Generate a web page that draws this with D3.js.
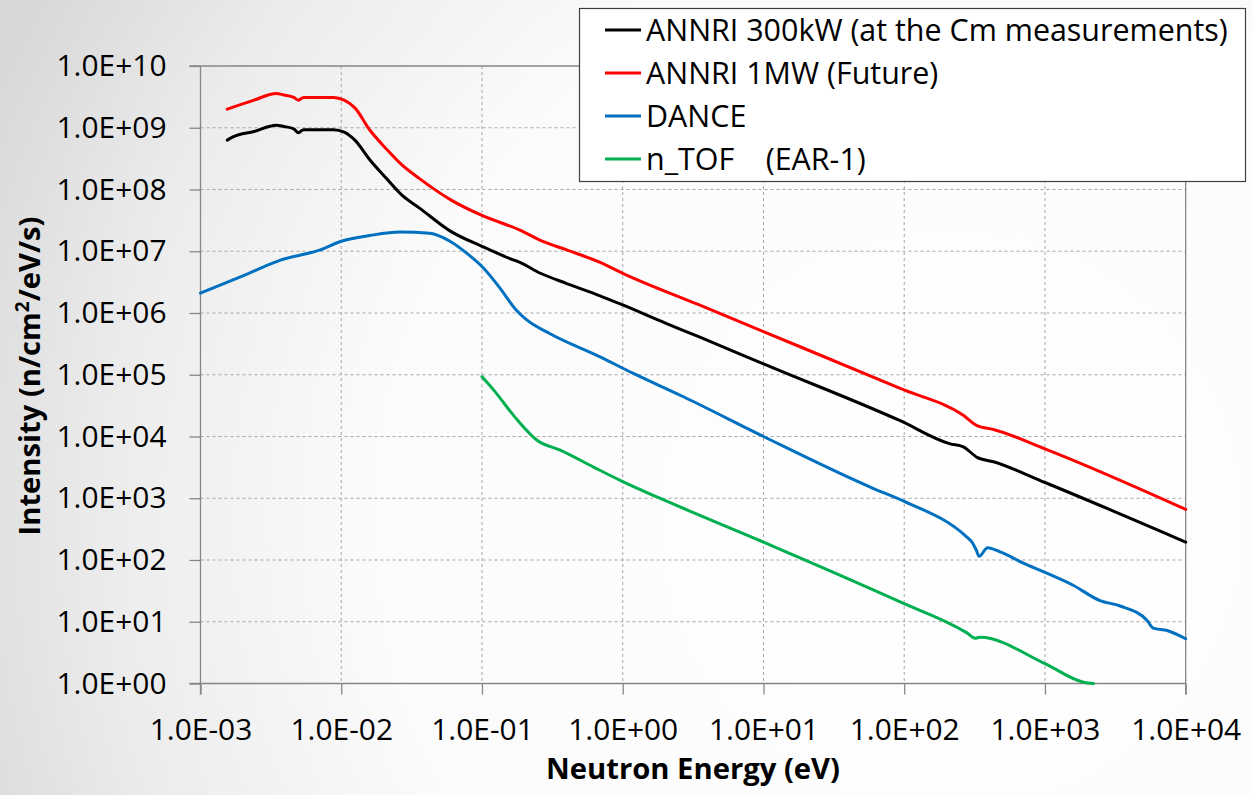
<!DOCTYPE html>
<html>
<head>
<meta charset="utf-8">
<script src="https://cdn.jsdelivr.net/npm/d3@7"></script>
<style>
  html, body { margin: 0; padding: 0; background: #fff; }
  svg { display: block; }
  text { font-family: "Open Sans", "Noto Sans", sans-serif; fill: #000; }
</style>
</head>
<body>
<svg id="chart" width="1252" height="795"></svg>
<script>
// Neutron flux spectra: energy (eV) vs intensity (n/cm^2/eV/s)
const annri300kW = [
  [1.55e-3, 6.3e8], [1.7e-3, 7.1e8], [2.4e-3, 8.7e8], [3.45e-3, 1.10e9], [3.9e-3, 1.05e9],
  [4.6e-3, 9.6e8], [4.96e-3, 8.3e8], [5.4e-3, 9.3e8], [7.1e-3, 9.3e8], [8.8e-3, 9.3e8],
  [1.05e-2, 8.5e8], [1.25e-2, 6.3e8], [1.6e-2, 3.0e8], [2.1e-2, 1.5e8],
  [2.7e-2, 8.1e7], [3.6e-2, 5.0e7], [6.0e-2, 2.1e7], [0.1, 1.2e7], [0.158, 7.6e6],
  [0.186, 6.6e6], [0.26, 4.4e6], [0.4, 3.0e6], [0.69, 1.9e6], [1, 1.35e6], [2.03, 6.8e5],
  [3.5, 4.1e5], [10, 1.5e5], [93.6, 1.8e4], [212, 7.6e3], [263, 6.8e3], [329, 4.6e3],
  [431, 3.9e3], [1000, 1.8e3], [10000, 195]
];
const annri1MW = [
  [1.55e-3, 2.0e9], [2.4e-3, 2.8e9], [3.45e-3, 3.6e9], [3.9e-3, 3.4e9], [4.6e-3, 3.1e9],
  [4.96e-3, 2.8e9], [5.4e-3, 3.1e9], [8.8e-3, 3.1e9], [1.05e-2, 2.8e9], [1.25e-2, 2.1e9],
  [1.6e-2, 9.1e8], [2.1e-2, 4.5e8], [2.7e-2, 2.5e8], [3.6e-2, 1.5e8],
  [6.0e-2, 6.8e7], [0.1, 3.8e7], [0.186, 2.2e7], [0.26, 1.5e7], [0.4, 1.05e7],
  [0.69, 6.6e6], [1, 4.4e6], [3.5, 1.35e6], [10, 5.0e5], [93.6, 6.0e4], [263, 2.2e4],
  [329, 1.5e4], [431, 1.3e4], [1000, 6.3e3], [10000, 660]
];
const dance = [
  [1e-3, 2.1e6], [2e-3, 4.0e6], [3.7e-3, 7.2e6], [7.1e-3, 1.05e7], [1e-2, 1.45e7],
  [1.6e-2, 1.8e7], [2.62e-2, 2.05e7], [4.26e-2, 1.95e7], [5.92e-2, 1.45e7], [7.78e-2, 9.3e6],
  [0.102, 5.4e6], [0.133, 2.6e6], [0.175, 1.12e6], [0.207, 7.8e5], [0.30, 4.7e5],
  [0.69, 1.95e5], [1.19, 1.05e5], [2.7, 4.4e4], [10, 1.0e4], [60, 1.45e3], [100, 890],
  [279, 234], [303, 195], [325, 145], [341, 115], [391, 158], [481, 135], [702, 89],
  [1000, 63], [1585, 39], [2460, 22], [3420, 18], [5320, 10.5], [5860, 7.9],
  [7380, 7.2], [10000, 5.3]
];
const nTOF = [
  [0.1, 9.3e4], [0.12, 5.8e4], [0.178, 1.86e4], [0.246, 8.7e3], [0.36, 6.0e3],
  [0.62, 3.2e3], [1, 1.86e3], [1.8, 1.02e3], [10, 195], [93.6, 21], [279, 6.6],
  [320, 5.4], [345, 5.6], [1000, 2.1], [1880, 1.05], [2210, 1.0]
];

const seriesNames = ["ANNRI 300kW (at the Cm measurements)", "ANNRI 1MW (Future)", "DANCE", "n_TOF    (EAR-1)"];
const seriesColors = ["#000000", "#ff0000", "#0070c0", "#00b050"];
const seriesData = [annri300kW, annri1MW, dance, nTOF];

const xTickValues = [1e-3, 1e-2, 1e-1, 1e0, 1e1, 1e2, 1e3, 1e4];
const xTickLabels = ["1.0E-03", "1.0E-02", "1.0E-01", "1.0E+00", "1.0E+01", "1.0E+02", "1.0E+03", "1.0E+04"];
const yTickValues = [1e0, 1e1, 1e2, 1e3, 1e4, 1e5, 1e6, 1e7, 1e8, 1e9, 1e10];
const yTickLabels = ["1.0E+00", "1.0E+01", "1.0E+02", "1.0E+03", "1.0E+04", "1.0E+05", "1.0E+06", "1.0E+07", "1.0E+08", "1.0E+09", "1.0E+10"];

const W = 1252, H = 795;
const plot = { left: 200.5, right: 1185.7, top: 66, bottom: 683.5 };

const svg = d3.select("#chart");
const defs = svg.append("defs");

// font size that makes a sample string span the wanted width
function fitSize(str, width, weight) {
  const t = svg.append("text").attr("font-size", 100).attr("font-weight", weight || "normal")
    .style("white-space", "pre").text(str);
  const w = t.node().getComputedTextLength();
  t.remove();
  return 100 * width / w;
}
const tickSize = fitSize("1.0E+10", 110);
const legendSize = fitSize(seriesNames[0], 582);
const titleSize = fitSize("Neutron Energy (eV)", 294, "bold");

// soft grey slide background, lighter towards the lower right
const bg = defs.append("radialGradient").attr("id", "bgGrad")
  .attr("gradientUnits", "userSpaceOnUse")
  .attr("cx", 950).attr("cy", 520).attr("r", 1050);
bg.append("stop").attr("offset", "0%").attr("stop-color", "#ffffff");
bg.append("stop").attr("offset", "55%").attr("stop-color", "#fbfbfb");
bg.append("stop").attr("offset", "80%").attr("stop-color", "#ececec");
bg.append("stop").attr("offset", "100%").attr("stop-color", "#d8d8d8");
svg.append("rect").attr("width", W).attr("height", H).attr("fill", "url(#bgGrad)");

const x = d3.scaleLog().domain([1e-3, 1e4]).range([plot.left, plot.right]);
const y = d3.scaleLog().domain([1, 1e10]).range([plot.bottom, plot.top]);

// dashed grid
const grid = svg.append("g").attr("stroke", "#a6a6a6").attr("stroke-width", 1).attr("stroke-dasharray", "3,3");
grid.selectAll("line.gx").data(xTickValues.slice(1, -1)).join("line")
  .attr("x1", d => x(d)).attr("x2", d => x(d))
  .attr("y1", plot.top).attr("y2", plot.bottom);
grid.selectAll("line.gy").data(yTickValues.slice(1, -1)).join("line")
  .attr("y1", d => y(d)).attr("y2", d => y(d))
  .attr("x1", plot.left).attr("x2", plot.right);

// axes
const axisColor = "#868686";
const xAxis = d3.axisBottom(x).tickValues(xTickValues)
  .tickFormat((d, i) => xTickLabels[i]).tickSize(11);
const gx = svg.append("g").attr("transform", `translate(0,${plot.bottom})`).call(xAxis);
const yAxis = d3.axisLeft(y).tickValues(yTickValues)
  .tickFormat((d, i) => yTickLabels[i]).tickSize(11).tickPadding(23);
const gy = svg.append("g").attr("transform", `translate(${plot.left},0)`).call(yAxis);
[gx, gy].forEach(g => {
  g.select(".domain").remove();
  g.selectAll(".tick line").attr("stroke", axisColor).attr("stroke-width", 1.3);
  g.selectAll(".tick text").attr("font-size", tickSize).attr("fill", "#000")
    .style("font-family", "'Open Sans', 'Noto Sans', sans-serif");
});
gx.selectAll(".tick text").attr("y", 56.5).attr("dy", 0);

// frame lines
const frame = svg.append("g").attr("stroke", axisColor).attr("stroke-width", 1.3).attr("fill", "none");
frame.append("line").attr("x1", plot.left).attr("x2", plot.left).attr("y1", plot.top).attr("y2", plot.bottom + 11);
frame.append("line").attr("x1", plot.left - 11).attr("x2", plot.right).attr("y1", plot.bottom).attr("y2", plot.bottom);
frame.append("line").attr("x1", plot.left - 11).attr("x2", plot.right).attr("y1", plot.top).attr("y2", plot.top);
frame.append("line").attr("x1", plot.right).attr("x2", plot.right).attr("y1", plot.top).attr("y2", plot.bottom + 11);

// curves
const line = d3.line().x(d => x(d[0])).y(d => y(d[1])).curve(d3.curveMonotoneX);
svg.append("g").selectAll("path").data(seriesData).join("path")
  .attr("d", line)
  .attr("fill", "none")
  .attr("stroke", (d, i) => seriesColors[i])
  .attr("stroke-width", 3)
  .attr("stroke-linejoin", "round")
  .attr("stroke-linecap", "round");

// axis titles
svg.append("text")
  .attr("x", 693).attr("y", 779)
  .attr("text-anchor", "middle").attr("font-size", titleSize).attr("font-weight", "bold")
  .text("Neutron Energy (eV)");
const yt = svg.append("text")
  .attr("transform", "translate(40,376) rotate(-90)")
  .attr("text-anchor", "middle").attr("font-size", titleSize).attr("font-weight", "bold");
yt.append("tspan").text("Intensity (n/cm");
yt.append("tspan").attr("font-size", titleSize * 0.65).attr("dy", -titleSize * 0.38).text("2");
yt.append("tspan").attr("dy", titleSize * 0.38).text("/eV/s)");

// legend
const legend = svg.append("g");
legend.append("rect").attr("x", 579.5).attr("y", 8.5).attr("width", 666).attr("height", 173)
  .attr("fill", "#ffffff").attr("stroke", "#404040").attr("stroke-width", 1.2);
const rows = legend.selectAll("g.row").data(seriesNames).join("g")
  .attr("transform", (d, i) => `translate(0,${30 + i * 43})`);
rows.append("line").attr("x1", 605).attr("x2", 641).attr("y1", 0).attr("y2", 0)
  .attr("stroke", (d, i) => seriesColors[i]).attr("stroke-width", 3);
rows.append("text").attr("x", 646).attr("y", 0).attr("dy", "0.35em")
  .attr("font-size", legendSize).style("white-space", "pre").text(d => d);
</script>
</body>
</html>
